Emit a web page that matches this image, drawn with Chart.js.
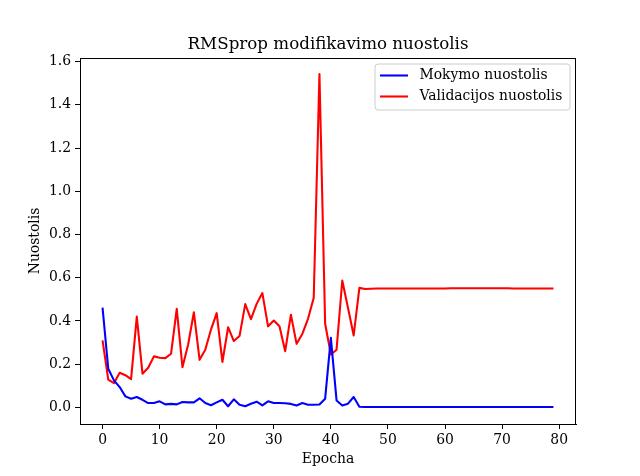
<!DOCTYPE html>
<html><head><meta charset="utf-8">
<script src="https://cdn.jsdelivr.net/npm/chart.js@4.4.0/dist/chart.umd.min.js"></script>
<style>html,body{margin:0;padding:0;background:#fff;}#wrap{width:640px;height:476px;position:relative;}</style>
</head><body><div id="wrap"><canvas id="c" width="640" height="476"></canvas></div>
<script>
const chartTitle = 'RMSprop modifikavimo nuostolis';
const xLabel = 'Epocha';
const yLabel = 'Nuostolis';
const seriesNames = ['Mokymo nuostolis', 'Validacijos nuostolis'];
const epochs = [0,1,2,3,4,5,6,7,8,9,10,11,12,13,14,15,16,17,18,19,20,21,22,23,24,25,26,27,28,29,30,31,32,33,34,35,36,37,38,39,40,41,42,43,44,45,46,47,48,49,50,51,52,53,54,55,56,57,58,59,60,61,62,63,64,65,66,67,68,69,70,71,72,73,74,75,76,77,78,79];
const trainLoss = [0.462,0.179,0.125,0.094,0.051,0.040,0.048,0.035,0.020,0.020,0.028,0.014,0.016,0.014,0.025,0.023,0.023,0.042,0.020,0.010,0.023,0.035,0.005,0.037,0.012,0.005,0.017,0.026,0.009,0.028,0.020,0.020,0.019,0.016,0.009,0.020,0.012,0.012,0.013,0.040,0.322,0.032,0.009,0.017,0.048,0.003,0.002,0.002,0.002,0.002,0.002,0.002,0.002,0.002,0.002,0.002,0.002,0.002,0.002,0.002,0.002,0.002,0.002,0.002,0.002,0.002,0.002,0.002,0.002,0.002,0.002,0.002,0.002,0.002,0.002,0.002,0.002,0.002,0.002,0.002];
const valLoss = [0.310,0.128,0.112,0.160,0.149,0.131,0.420,0.156,0.183,0.236,0.230,0.228,0.248,0.456,0.186,0.291,0.440,0.220,0.267,0.360,0.436,0.210,0.371,0.307,0.330,0.478,0.408,0.479,0.529,0.375,0.402,0.375,0.260,0.429,0.294,0.340,0.410,0.507,1.543,0.387,0.245,0.267,0.587,0.461,0.333,0.553,0.548,0.549,0.550,0.550,0.550,0.550,0.550,0.550,0.550,0.550,0.550,0.550,0.550,0.550,0.550,0.551,0.551,0.551,0.551,0.551,0.551,0.551,0.551,0.551,0.551,0.551,0.550,0.550,0.550,0.550,0.550,0.550,0.550,0.550];
const xTicks = [0,10,20,30,40,50,60,70,80];
const yTicks = [0.0,0.2,0.4,0.6,0.8,1.0,1.2,1.4,1.6];

const FONT = '"DejaVu Serif", serif';
const decor = {
  id: 'decor',
  afterDraw(chart) {
    const ctx = chart.ctx, a = chart.chartArea;
    ctx.save();
    ctx.strokeStyle = '#000'; ctx.lineWidth = 1;
    ctx.strokeRect(Math.round(a.left)+0.5, Math.round(a.top)+0.5, Math.round(a.right-a.left)-1, Math.round(a.bottom-a.top));
    ctx.fillStyle = '#000';
    ctx.font = '16.7px ' + FONT;
    ctx.textAlign = 'center'; ctx.textBaseline = 'alphabetic';
    ctx.fillText(chartTitle, (a.left+a.right)/2, 49);
    ctx.font = '13.9px ' + FONT;
    ctx.textBaseline = 'middle';
    ctx.fillText(xLabel, (a.left+a.right)/2, 459);
    ctx.save();
    ctx.translate(35, (a.top+a.bottom)/2);
    ctx.rotate(-Math.PI/2);
    ctx.fillText(yLabel, 0, 0);
    ctx.restore();
    // legend
    const lx = 375, ly = 64, lw = 195, lh = 46, r = 3;
    ctx.beginPath();
    ctx.moveTo(lx+r, ly); ctx.lineTo(lx+lw-r, ly); ctx.arcTo(lx+lw, ly, lx+lw, ly+r, r);
    ctx.lineTo(lx+lw, ly+lh-r); ctx.arcTo(lx+lw, ly+lh, lx+lw-r, ly+lh, r);
    ctx.lineTo(lx+r, ly+lh); ctx.arcTo(lx, ly+lh, lx, ly+lh-r, r);
    ctx.lineTo(lx, ly+r); ctx.arcTo(lx, ly, lx+r, ly, r);
    ctx.closePath();
    ctx.fillStyle = 'rgba(255,255,255,0.8)'; ctx.fill();
    ctx.strokeStyle = '#cccccc'; ctx.lineWidth = 1; ctx.stroke();
    const rows = [75.5, 96.5];
    chart.data.datasets.forEach((ds, i) => {
      ctx.strokeStyle = ds.borderColor; ctx.lineWidth = 2.08;
      ctx.beginPath(); ctx.moveTo(380, rows[i]); ctx.lineTo(408, rows[i]); ctx.stroke();
      ctx.fillStyle = '#000'; ctx.textAlign = 'left'; ctx.textBaseline = 'middle';
      ctx.fillText(ds.label, 419.5, rows[i]);
    });
    ctx.restore();
  }
};

new Chart(document.getElementById('c'), {
  type: 'line',
  data: {
    datasets: [
      { label: seriesNames[0], data: epochs.map((e,i)=>({x:e, y:trainLoss[i]})), borderColor: '#0000ff', backgroundColor: '#0000ff' },
      { label: seriesNames[1], data: epochs.map((e,i)=>({x:e, y:valLoss[i]})), borderColor: '#ff0000', backgroundColor: '#ff0000' }
    ]
  },
  options: {
    responsive: false, animation: false, devicePixelRatio: 1,
    layout: { padding: { top: 58, right: 64, left: 0, bottom: 0 } },
    elements: { point: { radius: 0 }, line: { borderWidth: 2.08, tension: 0, borderJoinStyle: 'round', borderCapStyle: 'butt' } },
    plugins: { legend: { display: false }, title: { display: false }, tooltip: { enabled: false } },
    scales: {
      x: {
        type: 'linear', min: -3.95, max: 82.95,
        afterBuildTicks: s => { s.ticks = xTicks.map(v => ({ value: v })); },
        afterFit: s => { s.height = 52; },
        grid: { drawOnChartArea: false, tickLength: 5, color: '#000', tickColor: '#000' },
        border: { display: true, color: '#000' },
        ticks: { color: '#000', font: { family: FONT, size: 13.9 }, padding: 3, maxRotation: 0, autoSkip: false, callback: v => String(v) }
      },
      y: {
        type: 'linear', min: -0.077, max: 1.617,
        afterBuildTicks: s => { s.ticks = yTicks.map(v => ({ value: v })); },
        afterFit: s => { s.width = 80; },
        grid: { drawOnChartArea: false, tickLength: 5, color: '#000', tickColor: '#000' },
        border: { display: true, color: '#000' },
        ticks: { color: '#000', font: { family: FONT, size: 13.9 }, padding: 4, autoSkip: false, callback: v => v.toFixed(1) }
      }
    }
  },
  plugins: [decor]
});
</script></body></html>
